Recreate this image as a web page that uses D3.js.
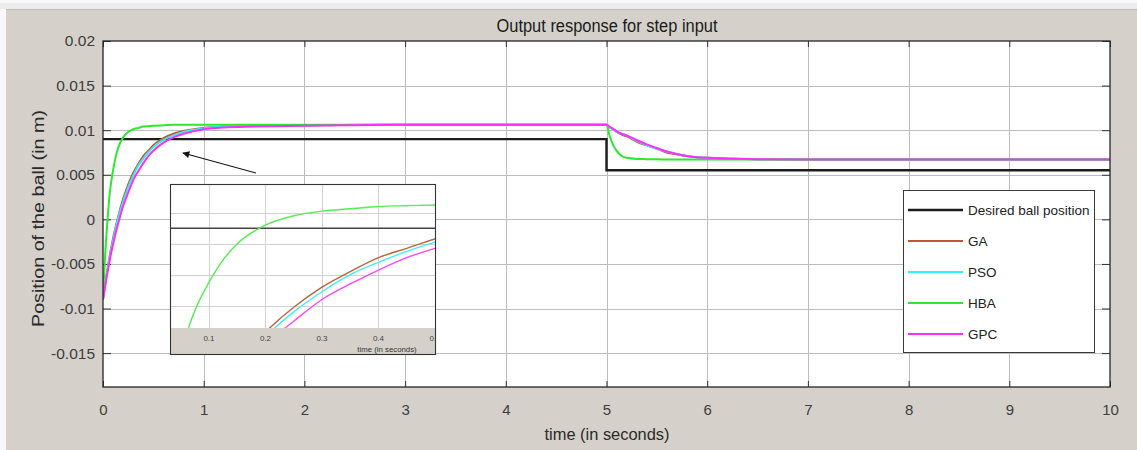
<!DOCTYPE html>
<html><head><meta charset="utf-8">
<script src="https://cdn.jsdelivr.net/npm/d3@7"></script>
<style>html,body{margin:0;padding:0;background:#fff;} svg{display:block;font-family:"Liberation Sans",Arial,sans-serif;}</style>
</head><body><svg id="c" width="1137" height="450"></svg>
<script>
// ---------------- data ----------------
const time = [0, 0.01, 0.02, 0.03, 0.04, 0.05, 0.065, 0.08, 0.1, 0.12, 0.15, 0.2, 0.25, 0.3, 0.35, 0.4, 0.45, 0.5, 0.6, 0.7, 0.8, 1.0, 1.2, 1.5, 2, 3, 4, 5,
  5.03, 5.067, 5.1, 5.15, 5.2, 5.3, 5.4, 5.5, 5.6, 5.75, 5.87, 6, 6.5, 7, 8, 9, 10];
const desiredTime = [0, 5, 10];
const desiredValues = [0.009, 0.0055, 0.0055];
const gaValues = [-0.0090, -0.0082, -0.0074, -0.0066, -0.0059, -0.0052, -0.0042, -0.0033, -0.0021, -0.0011, 0.0003, 0.0023, 0.0039, 0.0052, 0.0062, 0.0071, 0.0077, 0.0083, 0.0091, 0.0096, 0.0099, 0.01025, 0.0104, 0.0105, 0.01055, 0.0106, 0.0106, 0.0106,
  0.01035, 0.0101, 0.0098, 0.0095, 0.0093, 0.0087, 0.0083, 0.0079, 0.0075, 0.0072, 0.0070, 0.0069, 0.00673, 0.0067, 0.0067, 0.0067, 0.0067];
const psoValues = [-0.0090, -0.0082, -0.0074, -0.0067, -0.0060, -0.0053, -0.0044, -0.0035, -0.0024, -0.0013, 0.0001, 0.0020, 0.0036, 0.0049, 0.0060, 0.0068, 0.0075, 0.0081, 0.0089, 0.0094, 0.0098, 0.0102, 0.0104, 0.0105, 0.01055, 0.0106, 0.0106, 0.0106,
  0.01035, 0.0101, 0.0098, 0.0096, 0.0094, 0.0088, 0.0083, 0.0079, 0.0076, 0.0072, 0.0070, 0.0069, 0.00673, 0.0067, 0.0067, 0.0067, 0.0067];
const hbaValues = [-0.0090, -0.0065, -0.0043, -0.0024, -0.0008, 0.0007, 0.0027, 0.0041, 0.0055, 0.0067, 0.0080, 0.0092, 0.0098, 0.0101, 0.01025, 0.0104, 0.01045, 0.0105, 0.01055, 0.0106, 0.0106, 0.0106, 0.0106, 0.0106, 0.0106, 0.0106, 0.0106, 0.0106,
  0.0094, 0.0083, 0.0077, 0.0071, 0.0069, 0.00678, 0.00675, 0.00673, 0.00672, 0.0067, 0.0067, 0.0067, 0.0067, 0.0067, 0.0067, 0.0067, 0.0067];
const gpcValues = [-0.0090, -0.0083, -0.0076, -0.0069, -0.0062, -0.0056, -0.0047, -0.0038, -0.0028, -0.0018, -0.0005, 0.0015, 0.0030, 0.0044, 0.0054, 0.0063, 0.0071, 0.0077, 0.0086, 0.0092, 0.0096, 0.0101, 0.0103, 0.0104, 0.0105, 0.0106, 0.0106, 0.0106,
  0.0104, 0.01015, 0.0099, 0.0096, 0.0094, 0.0089, 0.0084, 0.0080, 0.0076, 0.0072, 0.0070, 0.0069, 0.00675, 0.0067, 0.0067, 0.0067, 0.0067];
const seriesNames = ["Desired ball position", "GA", "PSO", "HBA", "GPC"];
const xTicks = [0, 1, 2, 3, 4, 5, 6, 7, 8, 9, 10];
const yTicks = [-0.015, -0.01, -0.005, 0, 0.005, 0.01, 0.015, 0.02];
const yTickLabels = ["-0.015", "-0.01", "-0.005", "0", "0.005", "0.01", "0.015", "0.02"];
const insetTicks = [0.1, 0.2, 0.3, 0.4, 0.5];
const insetTickLabels = ["0.1", "0.2", "0.3", "0.4", "0.5"];
const insetYGrid = [0.004, 0.006, 0.008, 0.01];
const titleText = "Output response for step input";
const xLabel = "time (in seconds)";
const yLabel = "Position of the ball (in m)";

// ---------------- drawing ----------------
const svg = d3.select("#c");
const colors = ["#1c1c1c", "#bf5a2e", "#2ef0f4", "#2ee82e", "#ff2eff"];
const widths = [2.4, 2, 2, 2, 2];
const BG = "#d5d1ca";

// window background
svg.append("rect").attr("x", 0).attr("y", 0).attr("width", 1137).attr("height", 450).attr("fill", "#f8f8f8");
svg.append("rect").attr("x", 0).attr("y", 3).attr("width", 1137).attr("height", 6).attr("fill", "#ececec");
svg.append("rect").attr("x", 6).attr("y", 9).attr("width", 1131).attr("height", 1).attr("fill", "#bdbdbd");
svg.append("rect").attr("x", 6).attr("y", 10).attr("width", 1131).attr("height", 440).attr("fill", BG);

const L = 103, R = 1110, T = 41, B = 387;
const x = d3.scaleLinear().domain([0, 10]).range([L, R]);
const y = d3.scaleLinear().domain([-0.0188, 0.02]).range([B, T]);

svg.append("rect").attr("x", L).attr("y", T).attr("width", R - L).attr("height", B - T).attr("fill", "#fff");

// grid
const grid = svg.append("g").attr("stroke", "#bcbcbc").attr("stroke-width", 1);
grid.selectAll(".gx").data(xTicks.slice(1, -1)).join("line")
  .attr("x1", d => Math.round(x(d)) + 0.5).attr("x2", d => Math.round(x(d)) + 0.5).attr("y1", T).attr("y2", B);
grid.selectAll(".gy").data(yTicks.slice(0, -1)).join("line")
  .attr("y1", d => Math.round(y(d)) + 0.5).attr("y2", d => Math.round(y(d)) + 0.5).attr("x1", L).attr("x2", R);

// axes
function styleAxis(g, fs) {
  g.select(".domain").remove();
  g.selectAll(".tick line").attr("stroke", "#333");
  g.selectAll(".tick text").attr("fill", "#3d3d3d").attr("font-size", fs).attr("font-family", '"Liberation Sans",Arial,sans-serif');
}
svg.append("g").attr("transform", `translate(0,${B})`)
  .call(d3.axisBottom(x).tickValues(xTicks).tickSize(-6).tickPadding(17).tickFormat(d3.format("d")))
  .call(g => styleAxis(g, 15));
svg.append("g").attr("transform", `translate(0,${T})`)
  .call(d3.axisTop(x).tickValues(xTicks).tickSize(-6).tickFormat(""))
  .call(g => styleAxis(g, 15));
svg.append("g").attr("transform", `translate(${L},0)`)
  .call(d3.axisLeft(y).tickValues(yTicks).tickSize(-8).tickPadding(8).tickFormat((d, i) => yTickLabels[i]))
  .call(g => styleAxis(g, 15.5));
svg.append("g").attr("transform", `translate(${R},0)`)
  .call(d3.axisRight(y).tickValues(yTicks).tickSize(-8).tickFormat(""))
  .call(g => styleAxis(g, 15));

// clip
const defs = svg.append("defs");
defs.append("clipPath").attr("id", "plotClip").append("rect").attr("x", L).attr("y", T).attr("width", R - L).attr("height", B - T);
defs.append("marker").attr("id", "arr").attr("viewBox", "0 0 10 10").attr("refX", 9).attr("refY", 5)
  .attr("markerWidth", 9).attr("markerHeight", 7).attr("markerUnits", "userSpaceOnUse").attr("orient", "auto")
  .append("path").attr("d", "M0,0 L10,5 L0,10 z").attr("fill", "#111");

const series = [gaValues, psoValues, hbaValues, gpcValues];
const lineMain = d3.line().x(d => x(d[0])).y(d => y(d[1])).curve(d3.curveMonotoneX);
const stepMain = d3.line().x(d => x(d[0])).y(d => y(d[1])).curve(d3.curveStepAfter);

const lines = svg.append("g").attr("clip-path", "url(#plotClip)").attr("fill", "none");
lines.append("path").attr("d", stepMain(desiredTime.map((t, i) => [t, desiredValues[i]])))
  .attr("stroke", colors[0]).attr("stroke-width", widths[0]);
series.forEach((vals, k) => {
  lines.append("path").attr("d", lineMain(time.map((t, i) => [t, vals[i]])))
    .attr("stroke", colors[k + 1]).attr("stroke-width", widths[k + 1]);
});

// box
svg.append("rect").attr("x", L).attr("y", T).attr("width", R - L).attr("height", B - T)
  .attr("fill", "none").attr("stroke", "#262626").attr("stroke-width", 1.3);

// arrow
svg.append("line").attr("x1", 256).attr("y1", 173).attr("x2", 183).attr("y2", 153)
  .attr("stroke", "#111").attr("stroke-width", 1.1).attr("marker-end", "url(#arr)");

// ---------------- inset ----------------
const IL = 170, IR = 435, IT = 184, IB = 328, IBB = 354;
const ix = d3.scaleLinear().domain([0.031, 0.5]).range([IL, IR]);
const iy = d3.scaleLinear().domain([0.00256, 0.01185]).range([IB, IT]);
defs.append("clipPath").attr("id", "insetClip").append("rect").attr("x", IL).attr("y", IT).attr("width", IR - IL).attr("height", IBB - IT);
defs.append("clipPath").attr("id", "insetPlotClip").append("rect").attr("x", IL).attr("y", IT).attr("width", IR - IL).attr("height", IB - IT);
const inset = svg.append("g").attr("clip-path", "url(#insetClip)");
inset.append("rect").attr("x", IL).attr("y", IT).attr("width", IR - IL).attr("height", IBB - IT).attr("fill", BG);
inset.append("rect").attr("x", IL).attr("y", IT).attr("width", IR - IL).attr("height", IB - IT).attr("fill", "#fff");
const ig = inset.append("g").attr("stroke", "#d2d2d2").attr("stroke-width", 1);
ig.selectAll("line.v").data(insetTicks).join("line").attr("class", "v")
  .attr("x1", d => Math.round(ix(d)) + 0.5).attr("x2", d => Math.round(ix(d)) + 0.5).attr("y1", IT).attr("y2", IB);
ig.selectAll("line.h").data(insetYGrid).join("line").attr("class", "h")
  .attr("y1", d => Math.round(iy(d)) + 0.5).attr("y2", d => Math.round(iy(d)) + 0.5).attr("x1", IL).attr("x2", IR);
const lineIn = d3.line().x(d => ix(d[0])).y(d => iy(d[1])).curve(d3.curveMonotoneX);
const stepIn = d3.line().x(d => ix(d[0])).y(d => iy(d[1])).curve(d3.curveStepAfter);
const il = inset.append("g").attr("clip-path", "url(#insetPlotClip)").attr("fill", "none");
il.append("path").attr("d", stepIn(desiredTime.map((t, i) => [t, desiredValues[i]])))
  .attr("stroke", "#444").attr("stroke-width", 1.4);
const insetColors = ["#b8653a", "#3ef0f4", "#55ec55", "#ff44ff"];
series.forEach((vals, k) => {
  il.append("path").attr("d", lineIn(time.map((t, i) => [t, vals[i]])))
    .attr("stroke", insetColors[k]).attr("stroke-width", 1.4);
});
inset.selectAll("text.it").data(insetTicks).join("text").attr("class", "it")
  .attr("x", d => ix(d)).attr("y", 341).attr("text-anchor", "middle")
  .attr("font-size", 8).attr("fill", "#444").text((d, i) => insetTickLabels[i]);
inset.append("text").attr("x", 387).attr("y", 352).attr("text-anchor", "middle")
  .attr("font-size", 7.8).attr("fill", "#333").text(xLabel);
svg.append("rect").attr("x", IL + 0.5).attr("y", IT + 0.5).attr("width", IR - IL).attr("height", IBB - IT)
  .attr("fill", "none").attr("stroke", "#333").attr("stroke-width", 1.1);

// ---------------- legend ----------------
const lg = svg.append("g");
lg.append("rect").attr("x", 903.5).attr("y", 190.5).attr("width", 191).attr("height", 162)
  .attr("fill", "#fff").attr("stroke", "#3a3a3a").attr("stroke-width", 1);
seriesNames.forEach((name, i) => {
  const yy = 210 + i * 31;
  lg.append("line").attr("x1", 908).attr("x2", 963).attr("y1", yy).attr("y2", yy)
    .attr("stroke", colors[i]).attr("stroke-width", i === 0 ? 2.6 : 2.2);
  lg.append("text").attr("x", 968).attr("y", yy + 5).attr("font-size", 13.5).attr("fill", "#222").text(name);
});

// ---------------- titles ----------------
svg.append("text").attr("x", 607).attr("y", 32).attr("text-anchor", "middle")
  .attr("font-size", 17.5).attr("fill", "#1a1a1a")
  .attr("textLength", 221).attr("lengthAdjust", "spacingAndGlyphs").text(titleText);
svg.append("text").attr("x", 607).attr("y", 440).attr("text-anchor", "middle")
  .attr("font-size", 17).attr("fill", "#2a2a2a")
  .attr("textLength", 125).attr("lengthAdjust", "spacingAndGlyphs").text(xLabel);
svg.append("text").attr("transform", "translate(44,218.5) rotate(-90)").attr("text-anchor", "middle")
  .attr("font-size", 16).attr("fill", "#2a2a2a")
  .attr("textLength", 217).attr("lengthAdjust", "spacingAndGlyphs").text(yLabel);
</script>
</body></html>
